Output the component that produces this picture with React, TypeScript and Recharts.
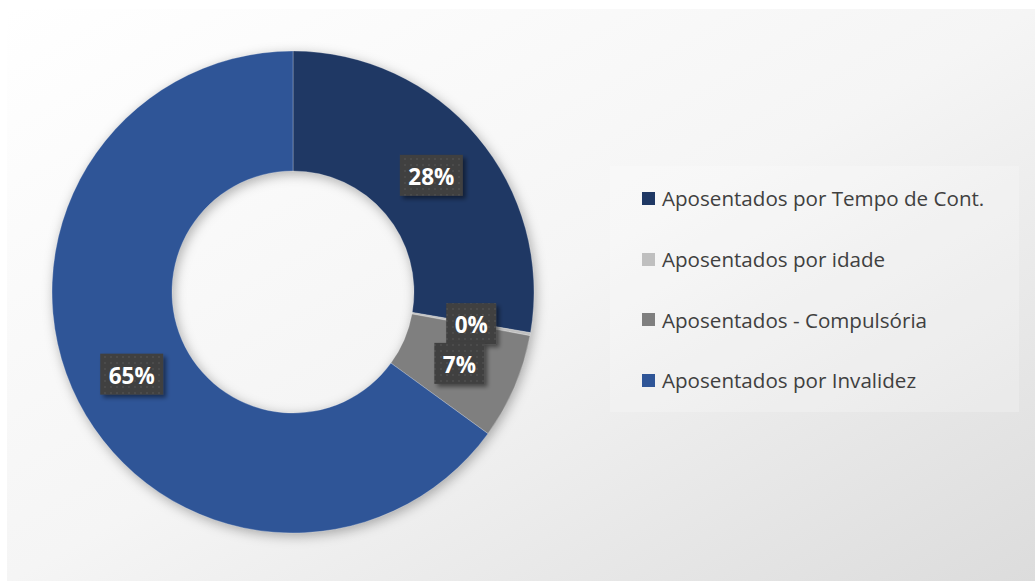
import { PieChart, Pie, Cell, Legend } from "recharts";

const categories = [
  "Aposentados por Tempo de Cont.",
  "Aposentados por idade",
  "Aposentados - Compulsória",
  "Aposentados por Invalidez",
];
const values = [27.7, 0.2, 7.1, 65.0];
const colors = ["#1F3864", "#BFBFBF", "#7F7F7F", "#2F5597"];

const data = categories.map((name, i) => ({ name, value: values[i] }));

const FONT = "'Open Sans', 'DejaVu Sans', sans-serif";

const renderLabel = (props: {
  cx?: number;
  cy?: number;
  midAngle?: number;
  innerRadius?: number;
  outerRadius?: number;
  percent?: number;
}) => {
  const { cx = 0, cy = 0, midAngle = 0, innerRadius = 0, outerRadius = 0, percent = 0 } = props;
  const RADIAN = Math.PI / 180;
  const r = innerRadius + (outerRadius - innerRadius) * 0.5;
  const x = cx + r * Math.cos(-midAngle * RADIAN);
  const y = cy + r * Math.sin(-midAngle * RADIAN);
  const text = `${(percent * 100).toFixed(0)}%`;
  const w = 24 + 13 * text.length;
  const h = 41;
  return (
    <g>
      <rect
        x={x - w / 2}
        y={y - h / 2}
        width={w}
        height={h}
        fill="url(#lblDots)"
        filter="url(#lblShadow)"
      />
      <text
        x={x}
        y={y + 1}
        fill="#ffffff"
        textAnchor="middle"
        dominantBaseline="central"
        fontFamily={FONT}
        fontWeight={700}
        fontSize={22.5}
      >
        {text}
      </text>
    </g>
  );
};

// legend drawn from our own arrays so the order stays as in the source
const renderLegend = () => (
  <div
    style={{
      width: 409,
      height: 246,
      background: "rgba(255,255,255,0.22)",
      paddingTop: 2,
      boxSizing: "border-box",
    }}
  >
    {categories.map((name, i) => (
      <div
        key={name}
        style={{
          height: 60.7,
          display: "flex",
          alignItems: "center",
          paddingLeft: 32,
        }}
      >
        <span
          style={{
            display: "inline-block",
            width: 13,
            height: 13,
            background: colors[i],
            marginRight: 7,
          }}
        />
        <span style={{ fontFamily: FONT, fontSize: 20.6, color: "#404040" }}>{name}</span>
      </div>
    ))}
  </div>
);

export default function App() {
  return (
    <div style={{ position: "absolute", left: 0, top: 0, width: 1035, height: 581, background: "#fff" }}>
      <div
        style={{
          position: "absolute",
          left: 7,
          top: 9,
          width: 1028,
          height: 572,
          background: "linear-gradient(to bottom right, #ffffff 0%, #f5f5f5 50%, #dcdcdc 100%)",
        }}
      />
      <style>{`.recharts-pie { filter: drop-shadow(2px 3px 6px rgba(0,0,0,0.3)); }`}</style>
      <svg width={0} height={0} style={{ position: "absolute" }}>
        <defs>
          <pattern id="lblDots" width="6" height="6" patternUnits="userSpaceOnUse">
            <rect width="6" height="6" fill="#404040" />
            <rect x="2" y="2" width="2" height="2" fill="#4b4b4b" />
          </pattern>
          <filter id="lblShadow" x="-30%" y="-30%" width="160%" height="160%">
            <feDropShadow dx="3" dy="3" stdDeviation="2" floodColor="#000" floodOpacity="0.45" />
          </filter>
        </defs>
      </svg>
      <div style={{ position: "absolute", left: 0, top: 0 }}>
        <PieChart width={1035} height={581} margin={{ top: 0, right: 0, bottom: 0, left: 0 }}>
          <Pie
            data={data}
            dataKey="value"
            nameKey="name"
            cx={293}
            cy={292}
            innerRadius={121}
            outerRadius={241}
            startAngle={90}
            endAngle={-270}
            stroke="rgba(255,255,255,0.25)"
            strokeWidth={1}
            labelLine={false}
            label={renderLabel}
            isAnimationActive={false}
          >
            {data.map((d, i) => (
              <Cell key={d.name} fill={colors[i]} />
            ))}
          </Pie>
          <Legend
            content={renderLegend}
            wrapperStyle={{ left: 610, top: 166, width: 409, height: 246 }}
          />
        </PieChart>
      </div>
    </div>
  );
}
